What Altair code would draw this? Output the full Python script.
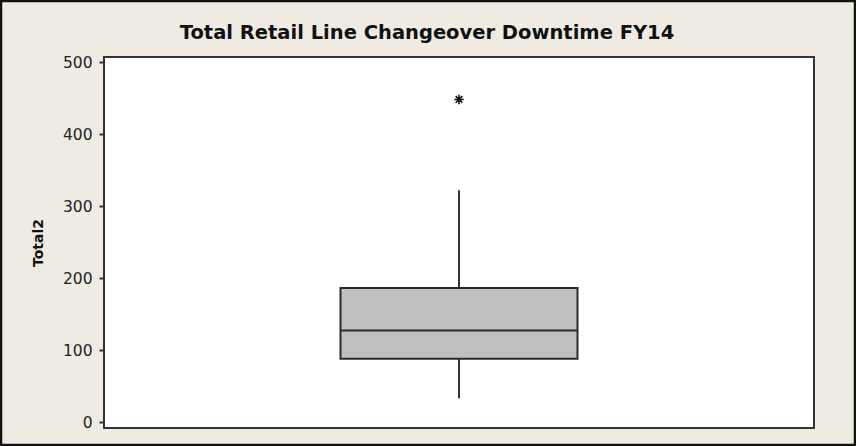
import altair as alt
import pandas as pd

# summary statistics
categories = ["Total2"]
q1_vals = [88]
median_vals = [127]
q3_vals = [186]
whisker_low = [33]
whisker_high = [322]
outliers = [448]
y_ticks = [0, 100, 200, 300, 400, 500]
title_text = ["Total Retail Line Changeover Downtime FY14"]

box_df = pd.DataFrame({
    "cat": categories,
    "q1": q1_vals,
    "median": median_vals,
    "q3": q3_vals,
    "lo": whisker_low,
    "hi": whisker_high,
})
out_df = pd.DataFrame({"cat": categories * len(outliers), "value": outliers})

yscale = alt.Scale(domain=[-8.3, 507], nice=False, zero=False)
xenc = alt.X("cat:N", axis=None)

base = alt.Chart(box_df)

whisker = base.mark_rule(color="#333333", strokeWidth=2).encode(
    x=xenc,
    y=alt.Y("lo:Q", scale=yscale,
            axis=alt.Axis(values=y_ticks, title="Total2", grid=False, domain=False,
                          tickSize=5, tickColor="#333333", tickWidth=2,
                          labelPadding=7, labelFontSize=15.5, labelColor="#222222",
                          labelFont="DejaVu Sans",
                          titleFont="DejaVu Sans", titleFontSize=14, titleFontWeight="bold",
                          titleColor="#111111", titleAngle=270, titleAlign="center",
                          titleBaseline="middle", titleX=-66, titleY=185.5)),
    y2="hi:Q",
)

box = base.mark_bar(size=237, fill="#c0c0c0", stroke="#2a2a2a", strokeWidth=2).encode(
    x=xenc,
    y=alt.Y("q1:Q", scale=yscale),
    y2="q3:Q",
)

med = base.mark_tick(size=237, thickness=2, color="#2a2a2a", opacity=1).encode(
    x=xenc,
    y=alt.Y("median:Q", scale=yscale),
)

star = "M-1,0L1,0M0,-1L0,1M-0.7,-0.7L0.7,0.7M-0.7,0.7L0.7,-0.7"
outl = alt.Chart(out_df).mark_point(shape=star, size=90, filled=False, color="#111111",
                                    strokeWidth=1.6, opacity=1).encode(
    x=xenc,
    y=alt.Y("value:Q", scale=yscale),
)

title_df = pd.DataFrame({"t": title_text})
title = alt.Chart(title_df).mark_text(font="DejaVu Sans", fontSize=19.5, fontWeight=600,
                                      color="#111111", align="center", baseline="alphabetic",
                                      clip=False).encode(
    text="t:N", x=alt.value(323), y=alt.value(-18)
)

frame_df = pd.DataFrame({"k": [0]})
frame = alt.Chart(frame_df).mark_rect(fill=None, stroke="#111111", strokeWidth=2.5, clip=False).encode(
    x=alt.value(-103), x2=alt.value(751), y=alt.value(-56), y2=alt.value(388)
)

chart = alt.layer(whisker, box, med, outl, title, frame).properties(
    width=710,
    height=371,
    padding={"left": 104, "top": 57, "right": 42, "bottom": 18},
    autosize=alt.AutoSizeParams(type="none"),
    background="#EFEBE2",
).configure_view(stroke="#333333", strokeWidth=2, fill="white")

chart.save("out.html", embed_options={"renderer": "svg", "actions": False})
